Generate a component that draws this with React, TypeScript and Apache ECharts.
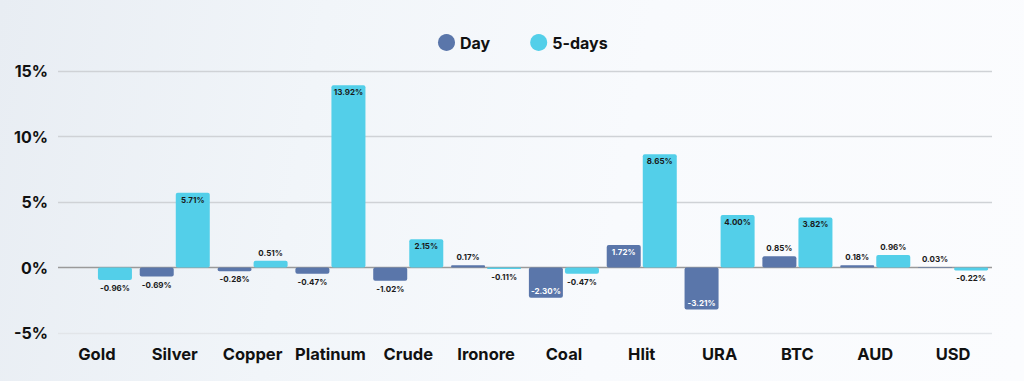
import React, { useEffect, useRef } from "react";
import * as echarts from "echarts";

const categories = ["Gold", "Silver", "Copper", "Platinum", "Crude", "Ironore", "Coal", "Hlit", "URA", "BTC", "AUD", "USD"];
const dayValues: (number | null)[] = [null, -0.69, -0.28, -0.47, -1.02, 0.17, -2.3, 1.72, -3.21, 0.85, 0.18, 0.03];
const fiveDayValues: (number | null)[] = [-0.96, 5.71, 0.51, 13.92, 2.15, -0.11, -0.47, 8.65, 4.0, 3.82, 0.96, -0.22];
const yTicks = [-5, 0, 5, 10, 15];

const DAY_COLOR = "#5a76aa";
const FIVE_COLOR = "#53cfe9";
const FONT = "Inter, 'Open Sans', sans-serif";

function buildData(values: (number | null)[], insideColor: string) {
  return values.map((v) => {
    if (v === null) return { value: null };
    const inside = Math.abs(v) >= 1.5;
    const pos = v >= 0 ? (inside ? "insideTop" : "top") : inside ? "insideBottom" : "bottom";
    return {
      value: v,
      label: {
        show: true,
        position: pos,
        color: inside ? insideColor : "#1a1a1a",
        distance: inside ? 3 : 4,
      },
    };
  });
}

export default function App() {
  const ref = useRef<HTMLDivElement>(null);
  useEffect(() => {
    if (!ref.current) return;
    const chart = echarts.init(ref.current, undefined, { renderer: "svg" });
    const labelCommon = {
      show: true,
      fontSize: 8,
      fontWeight: "bold" as const,
      fontFamily: FONT,
      formatter: (p: any) => (p.value === null || p.value === undefined ? "" : `${Number(p.value).toFixed(2)}%`),
    };
    chart.setOption({
      animation: false,
      backgroundColor: "transparent",
      legend: {
        top: 29,
        left: 433,
        itemWidth: 17,
        itemHeight: 17,
        itemGap: 40,
        icon: "circle",
        textStyle: { fontSize: 16, fontWeight: "bold", fontFamily: FONT, color: "#111" },
        data: ["Day", "5-days"],
      },
      grid: { left: 58, right: 32, top: 71, bottom: 48, containLabel: false },
      xAxis: {
        type: "category",
        data: categories,
        axisLine: { show: false, onZero: false },
        axisTick: { show: false },
        axisLabel: {
          interval: 0,
          margin: 12,
          fontSize: 16.5,
          fontWeight: "bold",
          fontFamily: FONT,
          color: "#111",
        },
      },
      yAxis: {
        type: "value",
        min: yTicks[0],
        max: yTicks[yTicks.length - 1],
        interval: 5,
        axisLine: { show: false },
        axisTick: { show: false },
        axisLabel: {
          margin: 10,
          fontSize: 16,
          fontWeight: "bold",
          fontFamily: FONT,
          color: "#111",
          formatter: (v: number) => `${v}%`,
        },
        splitLine: {
          lineStyle: { color: ["#e2e5e9", "#9a9a9a", "#cfd2d6", "#cfd2d6", "#cfd2d6"], width: 1.3 },
        },
      },
      series: [
        {
          name: "Day",
          type: "bar",
          barGap: "6%",
          barCategoryGap: "10%",
          itemStyle: { color: DAY_COLOR, borderRadius: 2 },
          label: labelCommon,
          data: buildData(dayValues, "#ffffff"),
        },
        {
          name: "5-days",
          type: "bar",
          barGap: "6%",
          barCategoryGap: "10%",
          itemStyle: { color: FIVE_COLOR, borderRadius: 2 },
          label: labelCommon,
          data: buildData(fiveDayValues, "#1a1a1a"),
        },
      ],
    });
    return () => chart.dispose();
  }, []);
  return (
    <div
      style={{
        position: "fixed",
        left: 0,
        top: 0,
        width: 1024,
        height: 381,
        background: "linear-gradient(100deg, #e8edf3 0%, #f1f5f9 30%, #f8fafd 60%, #fbfcfe 100%)",
      }}
    >
      <div ref={ref} style={{ width: 1024, height: 381 }} />
    </div>
  );
}
